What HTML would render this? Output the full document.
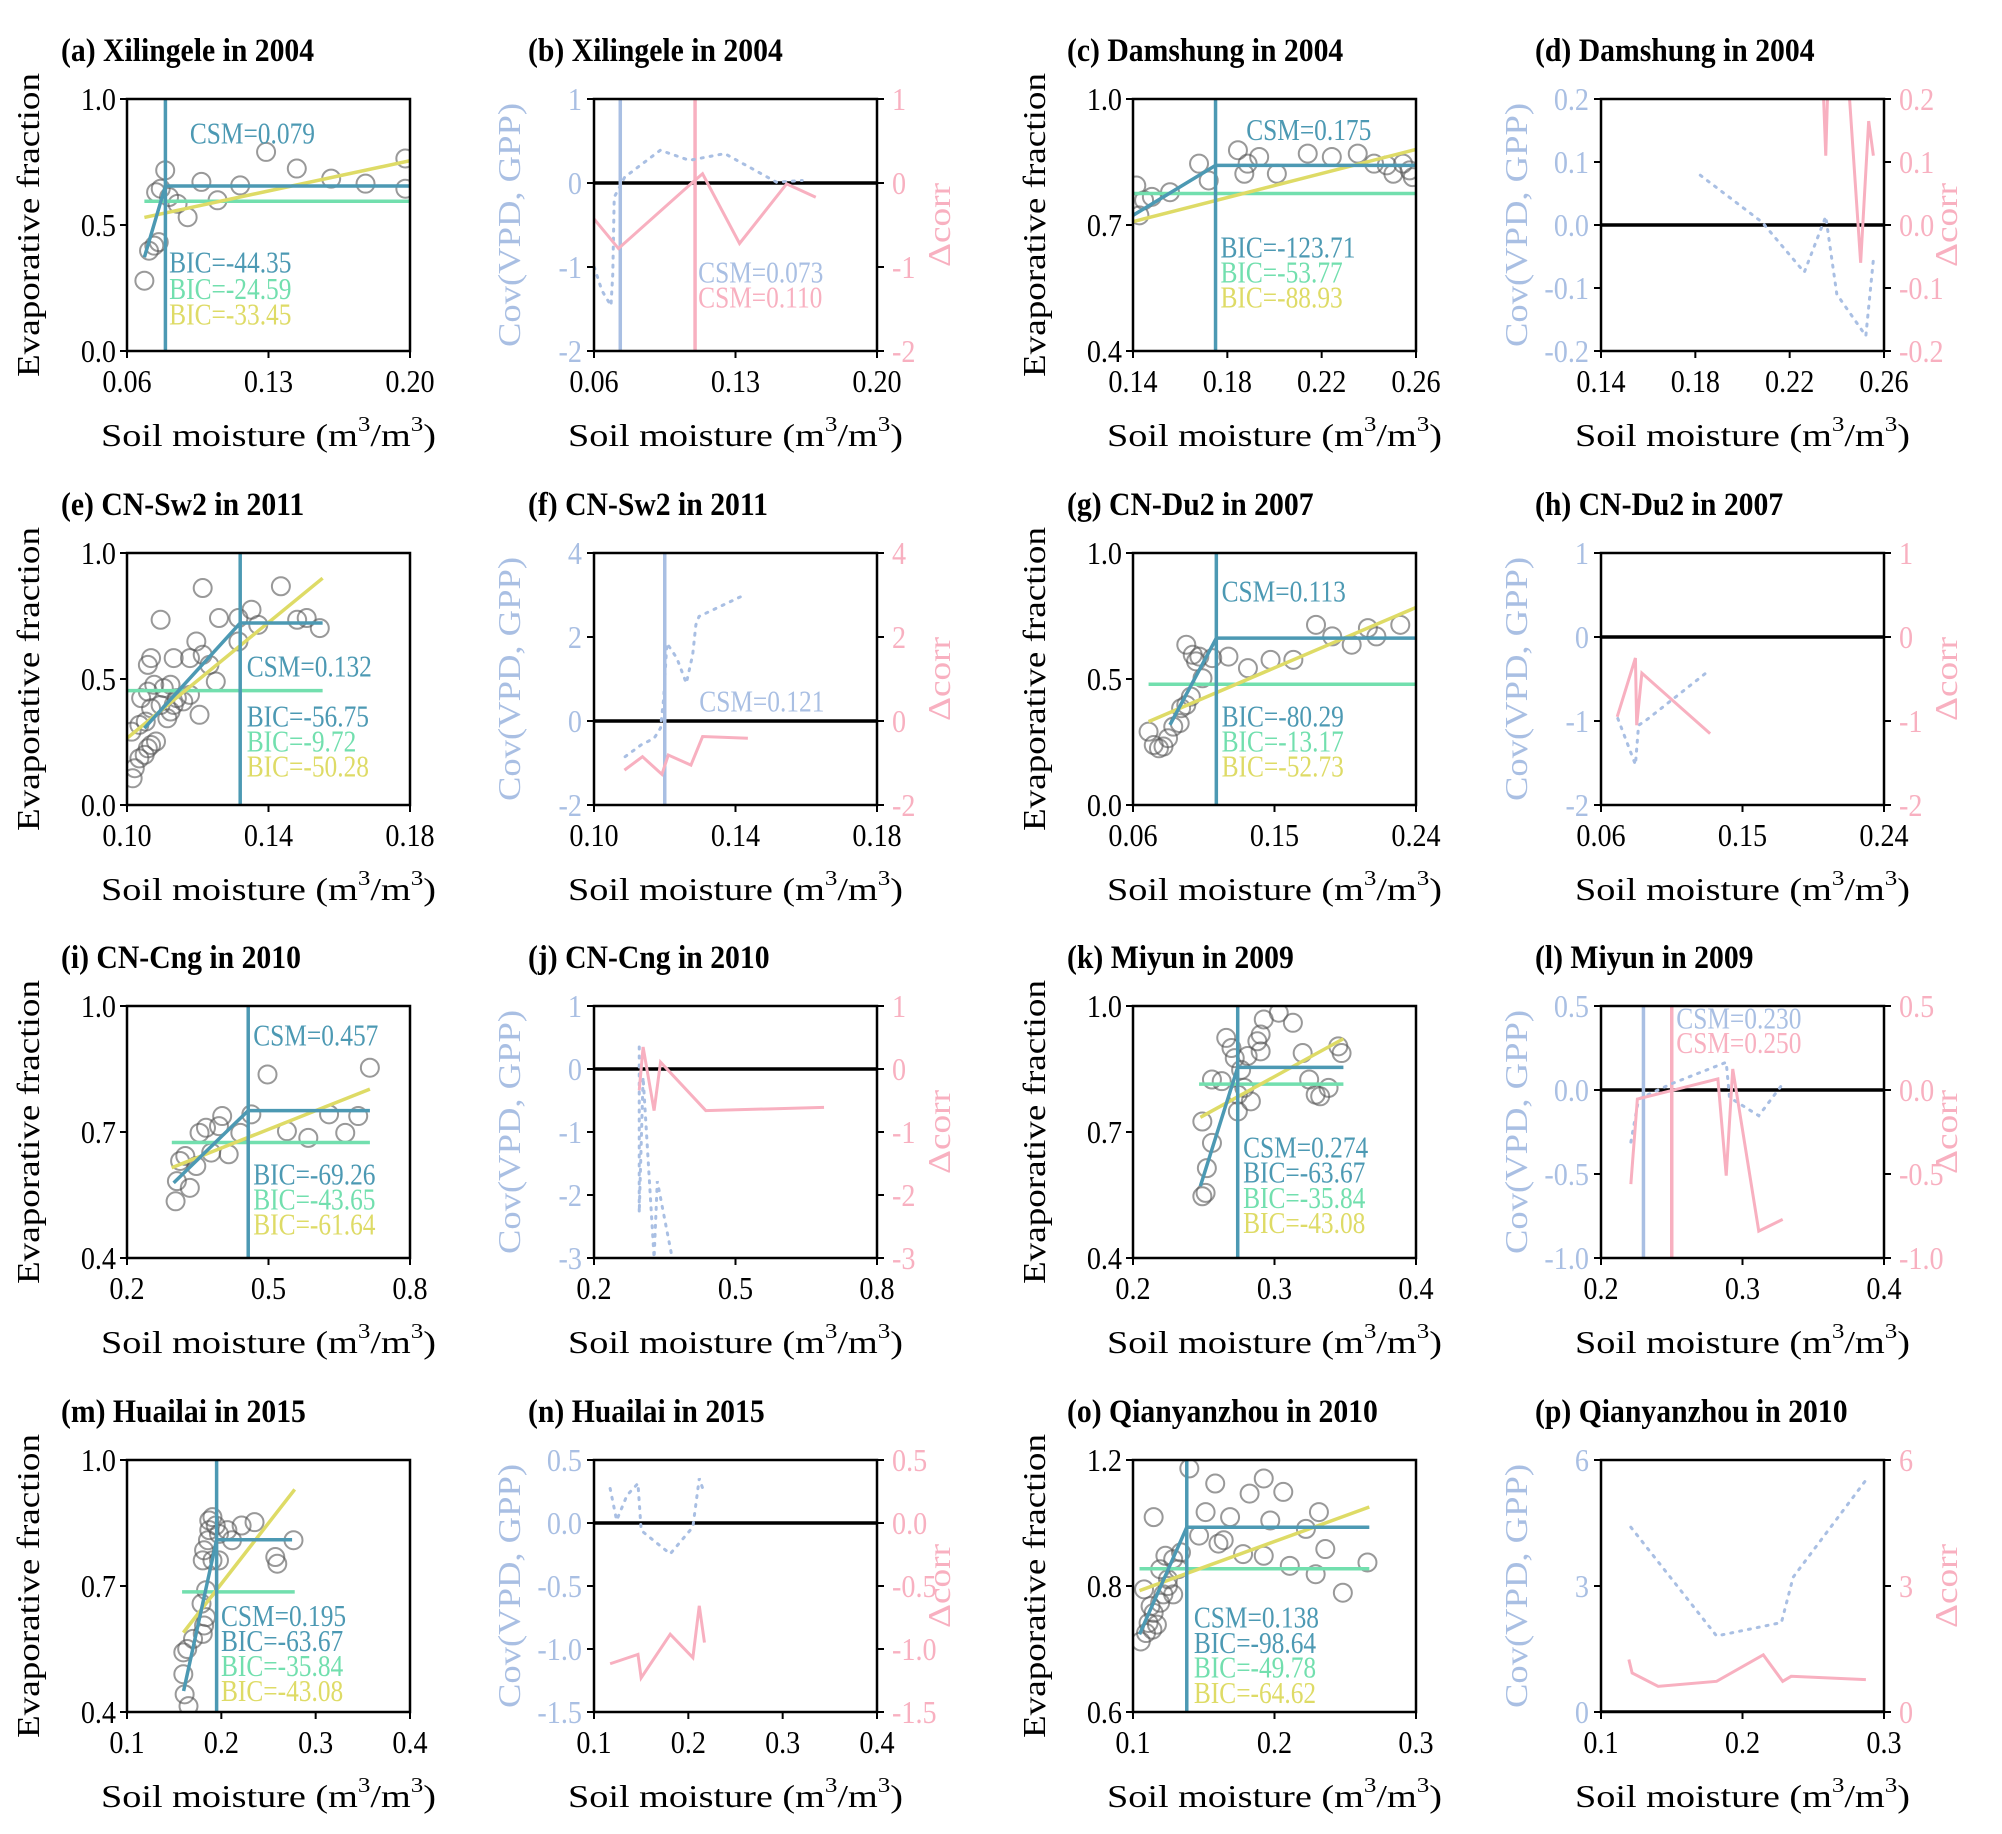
<!DOCTYPE html>
<html><head><meta charset="utf-8"><style>
html,body{margin:0;padding:0;background:#fff}
svg{display:block;font-family:"Liberation Serif",serif}
</style></head><body>
<svg id="fig" width="2002" height="1834" viewBox="0 0 2002 1834" xmlns="http://www.w3.org/2000/svg"></svg>
<script>
// ---------- data (left panels: scatter, piecewise [x0,y0,csm,plateau,x1], flat [x0,x1,y], linear [x0,y0,x1,y1]) ----------
const aSX=[0.0686,0.0709,0.0735,0.0757,0.0744,0.0767,0.0789,0.0808,0.085,0.090,0.0968,0.1048,0.116,0.1288,0.144,0.161,0.178,0.1977,0.1977];
const aSY=[0.279,0.398,0.418,0.432,0.63,0.644,0.717,0.611,0.584,0.531,0.671,0.598,0.657,0.790,0.724,0.684,0.664,0.764,0.644];
const aPW=[0.0686,0.372,0.079,0.655,0.20]; const aGR=[0.0686,0.20,0.594]; const aYE=[0.0686,0.53,0.20,0.755];
const cSX=[0.1414,0.1447,0.148,0.1557,0.168,0.1721,0.1845,0.1872,0.1886,0.1935,0.201,0.2141,0.2243,0.2353,0.2422,0.2476,0.2504,0.2545,0.2573,0.2586,0.1427];
const cSY=[0.794,0.759,0.767,0.778,0.846,0.806,0.878,0.822,0.846,0.862,0.822,0.870,0.862,0.870,0.846,0.842,0.822,0.846,0.830,0.814,0.723];
const cPW=[0.14,0.723,0.175,0.842,0.26]; const cGR=[0.14,0.26,0.775]; const cYE=[0.14,0.708,0.26,0.88];
const eSX=[0.1016,0.1022,0.1035,0.105,0.1059,0.1068,0.1082,0.1013,0.1035,0.1053,0.104,0.1068,0.1059,0.1095,0.1114,0.1123,0.1132,0.1141,0.1159,0.1178,0.1077,0.1104,0.1123,0.1059,0.1068,0.1132,0.1178,0.1196,0.1214,0.1251,0.126,0.1214,0.1095,0.1315,0.1352,0.1371,0.1435,0.1481,0.1508,0.1545,0.1205,0.1233,0.1315];
const eSY=[0.106,0.146,0.185,0.199,0.225,0.238,0.252,0.291,0.318,0.331,0.424,0.384,0.450,0.397,0.344,0.371,0.397,0.424,0.411,0.437,0.477,0.464,0.477,0.556,0.583,0.583,0.583,0.649,0.596,0.490,0.742,0.861,0.735,0.742,0.775,0.715,0.868,0.735,0.742,0.702,0.358,0.556,0.649];
const ePW=[0.1049,0.305,0.132,0.722,0.1553]; const eGR=[0.10,0.1553,0.454]; const eYE=[0.10,0.265,0.1553,0.90];
const gSX=[0.0699,0.0732,0.0765,0.0794,0.0823,0.0856,0.0897,0.0906,0.0939,0.0968,0.0939,0.0980,0.1001,0.1022,0.1042,0.1104,0.1207,0.1331,0.1475,0.162,0.1764,0.1867,0.1991,0.2094,0.2148,0.2300];
const gSY=[0.291,0.238,0.225,0.232,0.265,0.311,0.325,0.384,0.397,0.430,0.636,0.596,0.570,0.589,0.503,0.583,0.589,0.543,0.576,0.576,0.715,0.669,0.636,0.702,0.669,0.715];
const gPW=[0.0835,0.318,0.113,0.662,0.24]; const gGR=[0.0699,0.24,0.479]; const gYE=[0.0699,0.331,0.24,0.784];
const iSX=[0.303,0.3058,0.3126,0.3236,0.3332,0.3469,0.3538,0.3675,0.3785,0.395,0.4018,0.4156,0.4403,0.4636,0.4979,0.5391,0.5844,0.6284,0.6627,0.6902,0.7149];
const iSY=[0.535,0.583,0.631,0.643,0.567,0.619,0.698,0.710,0.651,0.714,0.738,0.647,0.698,0.742,0.837,0.702,0.686,0.742,0.698,0.738,0.853];
const iPW=[0.2989,0.579,0.457,0.751,0.715]; const iGR=[0.295,0.715,0.675]; const iYE=[0.2947,0.615,0.715,0.802];
const kSX=[0.249,0.2513,0.2522,0.2558,0.249,0.2558,0.2627,0.2659,0.2696,0.2719,0.2741,0.2741,0.2764,0.2787,0.281,0.2833,0.2879,0.2902,0.2902,0.2924,0.3030,0.3130,0.3199,0.3245,0.3291,0.3323,0.3382,0.3451,0.3474];
const kSY=[0.547,0.555,0.614,0.674,0.725,0.825,0.821,0.924,0.900,0.876,0.749,0.789,0.848,0.805,0.881,0.773,0.916,0.892,0.932,0.968,0.984,0.960,0.888,0.825,0.789,0.785,0.805,0.904,0.888];
const kPW=[0.2476,0.571,0.274,0.854,0.3487]; const kGR=[0.2467,0.3487,0.814]; const kYE=[0.2476,0.735,0.3487,0.922];
const mSX=[0.1611,0.1652,0.1597,0.1597,0.1638,0.17,0.1803,0.1817,0.1838,0.179,0.1838,0.1803,0.1817,0.1858,0.1872,0.1872,0.1906,0.1941,0.1975,0.2064,0.2113,0.2215,0.2352,0.2572,0.2593,0.2765,0.1906,0.1975];
const mSY=[0.442,0.414,0.490,0.542,0.550,0.574,0.586,0.606,0.626,0.658,0.690,0.761,0.785,0.809,0.833,0.856,0.864,0.844,0.824,0.833,0.809,0.844,0.852,0.769,0.753,0.809,0.761,0.761];
const mPW=[0.16,0.45,0.195,0.81,0.275]; const mGR=[0.1584,0.2778,0.686]; const mYE=[0.1597,0.589,0.2778,0.93];
const oSX=[0.1055,0.1092,0.1110,0.1137,0.1169,0.1146,0.1192,0.1215,0.1247,0.1284,0.1247,0.1192,0.1229,0.1284,0.1320,0.1339,0.1146,0.1398,0.1467,0.1513,0.1581,0.1604,0.1641,0.1686,0.1778,0.1824,0.1924,0.1924,0.1970,0.2062,0.2108,0.2222,0.2291,0.2314,0.2359,0.2483,0.2657,0.1078,0.1124];
const oSY=[0.768,0.788,0.812,0.796,0.808,0.836,0.860,0.880,0.900,0.880,0.916,0.940,0.972,0.964,0.940,0.980,1.064,1.180,1.020,1.076,1.144,1.001,1.009,1.064,0.976,1.120,0.972,1.156,1.056,1.124,0.948,1.036,0.928,1.076,0.988,0.884,0.956,0.892,0.852];
const oPW=[0.1046,0.785,0.138,1.04,0.267]; const oGR=[0.1046,0.267,0.941]; const oYE=[0.1046,0.889,0.267,1.088];
// ---------- data (right panels: Cov(VPD,GPP) dotted, Δcorr solid) ----------
const bBX=[0.0601,0.0639,0.0684,0.0693,0.07,0.0752,0.0928,0.1071,0.1247,0.1503,0.163];
const bBY=[-1.0,-1.28,-1.46,-1.08,-0.17,0.07,0.39,0.27,0.35,0.01,0.03];
const bPX=[0.0601,0.0721,0.1089,0.1137,0.132,0.1553,0.1697];
const bPY=[-0.43,-0.78,0.01,0.11,-0.72,-0.01,-0.17];
const dBX=[0.1821,0.2083,0.2262,0.2353,0.24,0.2523,0.2556];
const dBY=[0.079,0.0045,-0.075,0.0135,-0.11,-0.176,-0.051];
const dPX=[0.2338,0.2353,0.2365,0.2445,0.2501,0.2535,0.2555];
const dPY=[0.26,0.11,0.26,0.25,-0.06,0.165,0.11];
const fBX=[0.1088,0.1133,0.117,0.1188,0.1197,0.1206,0.1234,0.1261,0.1279,0.1288,0.1297,0.1425];
const fBY=[-0.85,-0.57,-0.41,-0.17,0.54,1.85,1.5,0.9,1.58,2.29,2.49,3.0];
const fPX=[0.1086,0.1137,0.1192,0.121,0.1274,0.1307,0.1435];
const fPY=[-1.17,-0.85,-1.27,-0.81,-1.05,-0.37,-0.41];
const hBX=[0.0707,0.0819,0.0839,0.0881,0.1294];
const hBY=[-0.97,-1.52,-1.05,-1.0,-0.39];
const hPX=[0.0703,0.0819,0.0827,0.086,0.1294];
const hPY=[-0.95,-0.25,-1.05,-0.43,-1.15];
const jBX=[0.2959,0.2959,0.3041,0.3274,0.3342,0.3658];
const jBY=[0.35,-2.28,-0.13,-3.0,-1.78,-3.0];
const jPX=[0.2959,0.3041,0.3274,0.3411,0.437,0.6877];
const jPY=[-0.34,0.35,-0.66,0.11,-0.66,-0.61];
const lBX=[0.2211,0.2266,0.2495,0.2885,0.2908,0.3115,0.3275];
const lBY=[-0.31,-0.054,0.036,0.165,-0.044,-0.153,0.026];
const lPX=[0.2211,0.2257,0.2495,0.2826,0.2885,0.2931,0.3115,0.3284];
const lPY=[-0.56,-0.054,-0.004,0.066,-0.51,0.125,-0.84,-0.77];
const nBX=[0.1171,0.124,0.135,0.1466,0.15,0.1808,0.2048,0.2116,0.2171];
const nBY=[0.274,0.021,0.22,0.314,-0.059,-0.245,-0.032,0.354,0.234];
const nPX=[0.1171,0.1466,0.15,0.1808,0.2048,0.2116,0.2171];
const nPY=[-1.117,-1.043,-1.229,-0.883,-1.069,-0.657,-0.949];
const pBX=[0.1211,0.1817,0.2275,0.2358,0.2872];
const pBY=[4.40,1.81,2.13,3.21,5.52];
const pPX=[0.1197,0.122,0.1404,0.1817,0.2147,0.2284,0.2344,0.2872];
const pPY=[1.25,0.93,0.61,0.73,1.36,0.73,0.85,0.77];

const COLS=[127,594,1133,1601], ROWS=[99,553,1006,1460], W=283, H=252;
const TEAL='#4c99b3', GREEN='#72dfae', YEL='#dedb66', BLUE='#a9bfe3', PINK='#f8b0c0';

const leftPanels=[
 {c:0,r:0,id:'a',title:'(a) Xilingele in 2004',xd:[0.06,0.20],xt:[0.06,0.13,0.20],xl:['0.06','0.13','0.20'],yd:[0,1],yt:[0,0.5,1],yl:['0.0','0.5','1.0'],sx:aSX,sy:aSY,pw:aPW,gr:aGR,ye:aYE,csm:'CSM=0.079',bic:['BIC=-44.35','BIC=-24.59','BIC=-33.45'],cp:[0.222,0.177],bp:[0.149,0.688,0.794,0.894]},
 {c:2,r:0,id:'c',title:'(c) Damshung in 2004',xd:[0.14,0.26],xt:[0.14,0.18,0.22,0.26],xl:['0.14','0.18','0.22','0.26'],yd:[0.4,1],yt:[0.4,0.7,1],yl:['0.4','0.7','1.0'],sx:cSX,sy:cSY,pw:cPW,gr:cGR,ye:cYE,csm:'CSM=0.175',bic:['BIC=-123.71','BIC=-53.77','BIC=-88.93'],cp:[0.40,0.163],bp:[0.309,0.628,0.728,0.827]},
 {c:0,r:1,id:'e',title:'(e) CN-Sw2 in 2011',xd:[0.10,0.18],xt:[0.10,0.14,0.18],xl:['0.10','0.14','0.18'],yd:[0,1],yt:[0,0.5,1],yl:['0.0','0.5','1.0'],sx:eSX,sy:eSY,pw:ePW,gr:eGR,ye:eYE,csm:'CSM=0.132',bic:['BIC=-56.75','BIC=-9.72','BIC=-50.28'],cp:[0.423,0.49],bp:[0.423,0.689,0.788,0.887]},
 {c:2,r:1,id:'g',title:'(g) CN-Du2 in 2007',xd:[0.06,0.24],xt:[0.06,0.15,0.24],xl:['0.06','0.15','0.24'],yd:[0,1],yt:[0,0.5,1],yl:['0.0','0.5','1.0'],sx:gSX,sy:gSY,pw:gPW,gr:gGR,ye:gYE,csm:'CSM=0.113',bic:['BIC=-80.29','BIC=-13.17','BIC=-52.73'],cp:[0.313,0.192],bp:[0.313,0.689,0.788,0.887]},
 {c:0,r:2,id:'i',title:'(i) CN-Cng in 2010',xd:[0.2,0.8],xt:[0.2,0.5,0.8],xl:['0.2','0.5','0.8'],yd:[0.4,1],yt:[0.4,0.7,1],yl:['0.4','0.7','1.0'],sx:iSX,sy:iSY,pw:iPW,gr:iGR,ye:iYE,csm:'CSM=0.457',bic:['BIC=-69.26','BIC=-43.65','BIC=-61.64'],cp:[0.446,0.157],bp:[0.446,0.708,0.807,0.907]},
 {c:2,r:2,id:'k',title:'(k) Miyun in 2009',xd:[0.2,0.4],xt:[0.2,0.3,0.4],xl:['0.2','0.3','0.4'],yd:[0.4,1],yt:[0.4,0.7,1],yl:['0.4','0.7','1.0'],sx:kSX,sy:kSY,pw:kPW,gr:kGR,ye:kYE,csm:'CSM=0.274',bic:['BIC=-63.67','BIC=-35.84','BIC=-43.08'],cp:[0.389,0.602],bp:[0.389,0.701,0.801,0.90]},
 {c:0,r:3,id:'m',title:'(m) Huailai in 2015',xd:[0.1,0.4],xt:[0.1,0.2,0.3,0.4],xl:['0.1','0.2','0.3','0.4'],yd:[0.4,1],yt:[0.4,0.7,1],yl:['0.4','0.7','1.0'],sx:mSX,sy:mSY,pw:mPW,gr:mGR,ye:mYE,csm:'CSM=0.195',bic:['BIC=-63.67','BIC=-35.84','BIC=-43.08'],cp:[0.332,0.658],bp:[0.332,0.758,0.858,0.957]},
 {c:2,r:3,id:'o',title:'(o) Qianyanzhou in 2010',xd:[0.1,0.3],xt:[0.1,0.2,0.3],xl:['0.1','0.2','0.3'],yd:[0.6,1.2],yt:[0.6,0.9,1.2],yl:['0.6','0.8','1.2'],sx:oSX,sy:oSY,pw:oPW,gr:oGR,ye:oYE,csm:'CSM=0.138',bic:['BIC=-98.64','BIC=-49.78','BIC=-64.62'],cp:[0.215,0.665],bp:[0.215,0.765,0.864,0.964]}
];
const rightPanels=[
 {c:1,r:0,id:'b',title:'(b) Xilingele in 2004',xd:[0.06,0.20],xt:[0.06,0.13,0.20],xl:['0.06','0.13','0.20'],yd:[-2,1],yt:[-2,-1,0,1],yl:['-2','-1','0','1'],bx:bBX,by:bBY,px:bPX,py:bPY,bv:0.073,pv:0.110,bt:'CSM=0.073',pt:'CSM=0.110',tp:[0.368,0.728,0.827]},
 {c:3,r:0,id:'d',title:'(d) Damshung in 2004',xd:[0.14,0.26],xt:[0.14,0.18,0.22,0.26],xl:['0.14','0.18','0.22','0.26'],yd:[-0.2,0.2],yt:[-0.2,-0.1,0,0.1,0.2],yl:['-0.2','-0.1','0.0','0.1','0.2'],bx:dBX,by:dBY,px:dPX,py:dPY,bv:null,pv:null},
 {c:1,r:1,id:'f',title:'(f) CN-Sw2 in 2011',xd:[0.10,0.18],xt:[0.10,0.14,0.18],xl:['0.10','0.14','0.18'],yd:[-2,4],yt:[-2,0,2,4],yl:['-2','0','2','4'],bx:fBX,by:fBY,px:fPX,py:fPY,bv:0.120,pv:null,bt:'CSM=0.121',tp:[0.372,0.629]},
 {c:3,r:1,id:'h',title:'(h) CN-Du2 in 2007',xd:[0.06,0.24],xt:[0.06,0.15,0.24],xl:['0.06','0.15','0.24'],yd:[-2,1],yt:[-2,-1,0,1],yl:['-2','-1','0','1'],bx:hBX,by:hBY,px:hPX,py:hPY,bv:null,pv:null},
 {c:1,r:2,id:'j',title:'(j) CN-Cng in 2010',xd:[0.2,0.8],xt:[0.2,0.5,0.8],xl:['0.2','0.5','0.8'],yd:[-3,1],yt:[-3,-2,-1,0,1],yl:['-3','-2','-1','0','1'],bx:jBX,by:jBY,px:jPX,py:jPY,bv:null,pv:null},
 {c:3,r:2,id:'l',title:'(l) Miyun in 2009',xd:[0.2,0.4],xt:[0.2,0.3,0.4],xl:['0.2','0.3','0.4'],yd:[-1,0.5],yt:[-1,-0.5,0,0.5],yl:['-1.0','-0.5','0.0','0.5'],bx:lBX,by:lBY,px:lPX,py:lPY,bv:0.230,pv:0.250,bt:'CSM=0.230',pt:'CSM=0.250',tp:[0.266,0.09,0.187]},
 {c:1,r:3,id:'n',title:'(n) Huailai in 2015',xd:[0.1,0.4],xt:[0.1,0.2,0.3,0.4],xl:['0.1','0.2','0.3','0.4'],yd:[-1.5,0.5],yt:[-1.5,-1,-0.5,0,0.5],yl:['-1.5','-1.0','-0.5','0.0','0.5'],bx:nBX,by:nBY,px:nPX,py:nPY,bv:null,pv:null},
 {c:3,r:3,id:'p',title:'(p) Qianyanzhou in 2010',xd:[0.1,0.3],xt:[0.1,0.2,0.3],xl:['0.1','0.2','0.3'],yd:[0,6],yt:[0,3,6],yl:['0','3','6'],bx:pBX,by:pBY,px:pPX,py:pPY,bv:null,pv:null}
];

const NS='http://www.w3.org/2000/svg';
const fig=document.getElementById('fig');
function mk(tag,attrs,parent){const e=document.createElementNS(NS,tag);for(const k in attrs)e.setAttribute(k,attrs[k]);(parent||fig).appendChild(e);return e;}
function txt(parent,x,y,s,size,fill,anchor,weight,sc){const t=mk('text',{x:0,y:0,transform:`translate(${x},${y}) scale(${sc||1},1)`,'font-size':size,fill:fill,'text-anchor':anchor||'start','font-weight':weight||'normal'},parent);t.textContent=s;return t;}

function frame(g,p,L,T){
  const sx=v=>L+(v-p.xd[0])/(p.xd[1]-p.xd[0])*W;
  const sy=v=>T+H-(v-p.yd[0])/(p.yd[1]-p.yd[0])*H;
  const ti=txt(g,L-66,T-38,p.title,33,'#000','start','bold',0.9);
  
  
  const xl=mk('text',{x:L+W/2,y:T+H+95,'font-size':32,fill:'#000','text-anchor':'middle',textLength:335,lengthAdjust:'spacingAndGlyphs'},g);
  
  
  xl.innerHTML='Soil moisture (m<tspan font-size="21" dy="-15">3</tspan><tspan dy="15">/m</tspan><tspan font-size="21" dy="-15">3</tspan><tspan dy="15">)</tspan>';
  p.xt.forEach((v,i)=>{
    mk('line',{x1:sx(v),x2:sx(v),y1:T+H,y2:T+H+7,stroke:'#000','stroke-width':2},g);
    const t=txt(g,sx(v),T+H+41,p.xl[i],32,'#000','middle',null,0.88);
    
    
  });
  return {sx,sy};
}

leftPanels.forEach(p=>{
  const L=COLS[p.c],T=ROWS[p.r];
  const g=mk('g',{});
  
  
  const {sx,sy}=frame(g,p,L,T);
  const yl=mk('text',{transform:`translate(${L-88},${T+H/2}) rotate(-90)`,'font-size':32,fill:'#000','text-anchor':'middle',textLength:304,lengthAdjust:'spacingAndGlyphs'},g);
  yl.textContent='Evaporative fraction';
  
  
  p.yt.forEach((v,i)=>{
    mk('line',{x1:L-7,x2:L,y1:sy(v),y2:sy(v),stroke:'#000','stroke-width':2},g);
    const t=txt(g,L-11,sy(v)+11,p.yl[i],32,'#000','end',null,0.88);
    
    
  });
  const cid='clip'+p.id;
  const cp=mk('clipPath',{id:cid},g); mk('rect',{x:L,y:T,width:W,height:H},cp);
  const inner=mk('g',{'clip-path':`url(#${cid})`},g);
  p.sx.forEach((x,i)=>{
    const c=mk('circle',{cx:sx(x),cy:sy(p.sy[i]),r:9,fill:'none',stroke:'#555','stroke-opacity':0.6,'stroke-width':2},inner);
    
    
  });
  const gr=mk('line',{x1:sx(p.gr[0]),x2:sx(p.gr[1]),y1:sy(p.gr[2]),y2:sy(p.gr[2]),stroke:GREEN,'stroke-width':3.5},inner);
  
  
  const ye=mk('line',{x1:sx(p.ye[0]),x2:sx(p.ye[2]),y1:sy(p.ye[1]),y2:sy(p.ye[3]),stroke:YEL,'stroke-width':3.5},inner);
  
  
  const pw=mk('polyline',{points:`${sx(p.pw[0])},${sy(p.pw[1])} ${sx(p.pw[2])},${sy(p.pw[3])} ${sx(p.pw[4])},${sy(p.pw[3])}`,fill:'none',stroke:TEAL,'stroke-width':3.5},inner);
  
  
  const vl=mk('line',{x1:sx(p.pw[2]),x2:sx(p.pw[2]),y1:T,y2:T+H,stroke:TEAL,'stroke-width':3.5},inner);
  
  
  const fr=mk('rect',{x:L,y:T,width:W,height:H,fill:'none',stroke:'#000','stroke-width':2.5},g);
  
  
  const ct=txt(g,L+p.cp[0]*W,T+p.cp[1]*H,p.csm,31,TEAL,'start',null,0.82);
  
  
  [TEAL,GREEN,YEL].forEach((col,i)=>{
    const t=txt(g,L+p.bp[0]*W,T+p.bp[1+i]*H,p.bic[i],31,col,'start',null,0.82);
    
    
  });
});

rightPanels.forEach(p=>{
  const L=COLS[p.c],T=ROWS[p.r];
  const g=mk('g',{});
  
  
  const {sx,sy}=frame(g,p,L,T);
  const yl=mk('text',{transform:`translate(${L-74},${T+H/2}) rotate(-90)`,'font-size':32,fill:BLUE,'text-anchor':'middle',textLength:244,lengthAdjust:'spacingAndGlyphs'},g);
  yl.textContent='Cov(VPD, GPP)';
  
  
  const yr=mk('text',{transform:`translate(${L+W+73},${T+H/2}) rotate(-90)`,'font-size':32,fill:PINK,'text-anchor':'middle',textLength:84,lengthAdjust:'spacingAndGlyphs'},g);
  yr.textContent='Δcorr';
  
  
  p.yt.forEach((v,i)=>{
    mk('line',{x1:L-7,x2:L,y1:sy(v),y2:sy(v),stroke:'#000','stroke-width':2},g);
    mk('line',{x1:L+W,x2:L+W+7,y1:sy(v),y2:sy(v),stroke:'#000','stroke-width':2},g);
    const t=txt(g,L-12,sy(v)+11,p.yl[i],32,BLUE,'end',null,0.88);
    
    
    const t2=txt(g,L+W+15,sy(v)+11,p.yl[i],32,PINK,'start',null,0.88);
    
    
  });
  const cid='clip'+p.id;
  const cp=mk('clipPath',{id:cid},g); mk('rect',{x:L,y:T,width:W,height:H},cp);
  const inner=mk('g',{'clip-path':`url(#${cid})`},g);
  const zl=mk('line',{x1:L,x2:L+W,y1:sy(0),y2:sy(0),stroke:'#000','stroke-width':3.5},inner);
  
  
  if(p.bv!==null){const v=mk('line',{x1:sx(p.bv),x2:sx(p.bv),y1:T,y2:T+H,stroke:BLUE,'stroke-width':3.5},inner);
    
    }
  if(p.pv!==null){const v=mk('line',{x1:sx(p.pv),x2:sx(p.pv),y1:T,y2:T+H,stroke:PINK,'stroke-width':3.5},inner);
    
    }
  const bl=mk('polyline',{points:p.bx.map((x,i)=>sx(x)+','+sy(p.by[i])).join(' '),fill:'none',stroke:BLUE,'stroke-width':3,'stroke-dasharray':'2 7','stroke-linecap':'round'},inner);
  
  
  const pl=mk('polyline',{points:p.px.map((x,i)=>sx(x)+','+sy(p.py[i])).join(' '),fill:'none',stroke:PINK,'stroke-width':3},inner);
  
  
  const fr=mk('rect',{x:L,y:T,width:W,height:H,fill:'none',stroke:'#000','stroke-width':2.5},g);
  
  
  if(p.bt){const t=txt(g,L+p.tp[0]*W,T+p.tp[1]*H,p.bt,31,BLUE,'start',null,0.82);
    
    }
  if(p.pt){const t=txt(g,L+p.tp[0]*W,T+p.tp[2]*H,p.pt,31,PINK,'start',null,0.82);
    
    }
});
</script>
</body></html>
